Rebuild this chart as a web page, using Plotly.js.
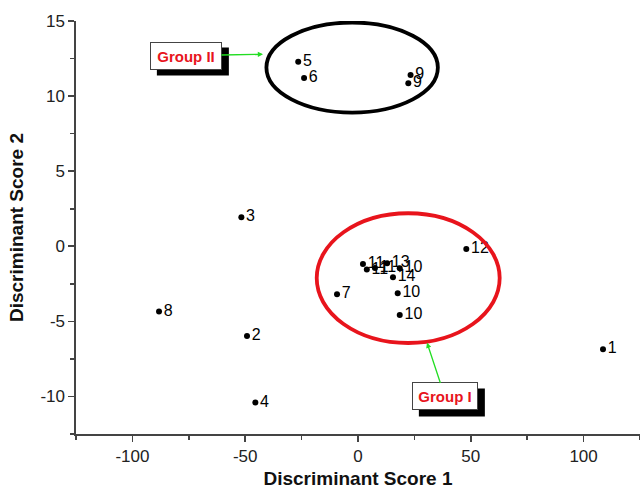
<!DOCTYPE html>
<html>
<head>
<meta charset="utf-8">
<script src="https://cdn.plot.ly/plotly-3.0.1.min.js"></script>
<style>html,body{margin:0;padding:0;background:#fff;}#chart{width:640px;height:490px;}</style>
</head>
<body>
<div id="chart"></div>
<script>
// Data
const scoreX = [108.6, -49.2, -51.7, -45.5, -26.5, -23.9, -9.3, -88.2, 23.3, 22.3, 2.2, 3.9, 7.5, 12.9, 18.5, 15.5, 17.6, 18.5, 48.0];
const scoreY = [-6.86, -5.97, 1.93, -10.41, 12.29, 11.2, -3.2, -4.35, 11.4, 10.85, -1.18, -1.55, -1.45, -1.13, -1.46, -2.06, -3.13, -4.57, -0.18];
const pointLabels = ["1", "2", "3", "4", "5", "6", "7", "8", "9", "9", "11", "11", "11", "13", "10", "14", "10", "10", "12"];

// Group ellipses (data coordinates)
const groupNames = ["Group II", "Group I"];
const groupEllipseX = [[-40.6, 35.4], [-18.3, 62.8]];
const groupEllipseY = [[8.9, 14.9], [-6.44, 2.2]];
const groupEllipseColor = ["#000000", "#e8141c"];
const groupArrowTipX = [-42.1, 30.6];
const groupArrowTipY = [12.78, -6.42];
const groupLabelX = [-76.3, 38.5];
const groupLabelY = [12.7, -10.0];

const xTickVals = [-100, -50, 0, 50, 100];
const xTickText = ["-100", "-50", "0", "50", "100"];
const yTickVals = [-10, -5, 0, 5, 10, 15];
const yTickText = ["-10", "-5", "0", "5", "10", "15"];

const FONT = "Liberation Sans, Arial, Helvetica, sans-serif";

const trace = {
  x: scoreX, y: scoreY, text: pointLabels,
  type: "scatter", mode: "markers+text",
  marker: {color: "#000", size: 6},
  textposition: "middle right",
  textfont: {family: FONT, size: 16, color: "#000"},
  cliponaxis: false, hoverinfo: "skip"
};

// label box sizes (inner text area, px)
const boxW = [62, 56];
const boxH = 18;
const pad = 4;

const shapes = groupNames.map((g, i) => ({
  type: "circle", xref: "x", yref: "y",
  x0: groupEllipseX[i][0], x1: groupEllipseX[i][1],
  y0: groupEllipseY[i][0], y1: groupEllipseY[i][1],
  line: {color: groupEllipseColor[i], width: 3.8}, layer: "above"
}));
// drop shadows behind the label boxes
groupNames.forEach((g, i) => {
  const ow = boxW[i] + 2 * pad + 2, oh = boxH + 2 * pad + 2;
  shapes.push({
    type: "rect", xref: "x", yref: "y",
    xsizemode: "pixel", ysizemode: "pixel",
    xanchor: groupLabelX[i], yanchor: groupLabelY[i],
    x0: -ow / 2 + 7, x1: ow / 2 + 7, y0: -oh / 2 - 6, y1: oh / 2 - 6,
    fillcolor: "#000", line: {width: 0}, layer: "above"
  });
});

const annotations = groupNames.map((g, i) => ({
  x: groupArrowTipX[i], y: groupArrowTipY[i], xref: "x", yref: "y",
  ax: groupLabelX[i], ay: groupLabelY[i], axref: "x", ayref: "y",
  text: "<b>" + g + "</b>", showarrow: true,
  width: boxW[i], height: boxH,
  arrowhead: 2, arrowsize: 0.8, arrowwidth: 1.3, arrowcolor: "#22dd22",
  font: {family: FONT, size: 15, color: "#e8141c"},
  bgcolor: "#fff", bordercolor: "#444", borderwidth: 1, borderpad: pad
}));

const layout = {
  width: 640, height: 490,
  margin: {l: 76, r: 0, t: 21, b: 56},
  paper_bgcolor: "#fff", plot_bgcolor: "#fff",
  showlegend: false,
  font: {family: FONT, color: "#222"},
  xaxis: {
    range: [-125, 125], tickvals: xTickVals, ticktext: xTickText,
    showgrid: false, zeroline: false,
    showline: true, linecolor: "#444", linewidth: 1.6,
    ticks: "outside", ticklen: 6, tickwidth: 1.6, tickcolor: "#444",
    minor: {dtick: 25, ticks: "outside", ticklen: 4, tickwidth: 1.6, tickcolor: "#444", showgrid: false},
    tickfont: {family: FONT, size: 17, color: "#222"},
    title: {text: "<b>Discriminant Score 1</b>", font: {family: FONT, size: 19, color: "#111"}, standoff: 6}
  },
  yaxis: {
    range: [-12.5, 15], tickvals: yTickVals, ticktext: yTickText,
    showgrid: false, zeroline: false,
    showline: true, linecolor: "#444", linewidth: 1.6,
    ticks: "outside", ticklen: 6, tickwidth: 1.6, tickcolor: "#444",
    minor: {dtick: 2.5, ticks: "outside", ticklen: 4, tickwidth: 1.6, tickcolor: "#444", showgrid: false},
    tickfont: {family: FONT, size: 17, color: "#222"},
    title: {text: "<b>Discriminant Score 2</b>", font: {family: FONT, size: 19, color: "#111"}, standoff: 12}
  },
  shapes: shapes,
  annotations: annotations
};

Plotly.newPlot("chart", [trace], layout, {displayModeBar: false, staticPlot: true});
</script>
</body>
</html>
